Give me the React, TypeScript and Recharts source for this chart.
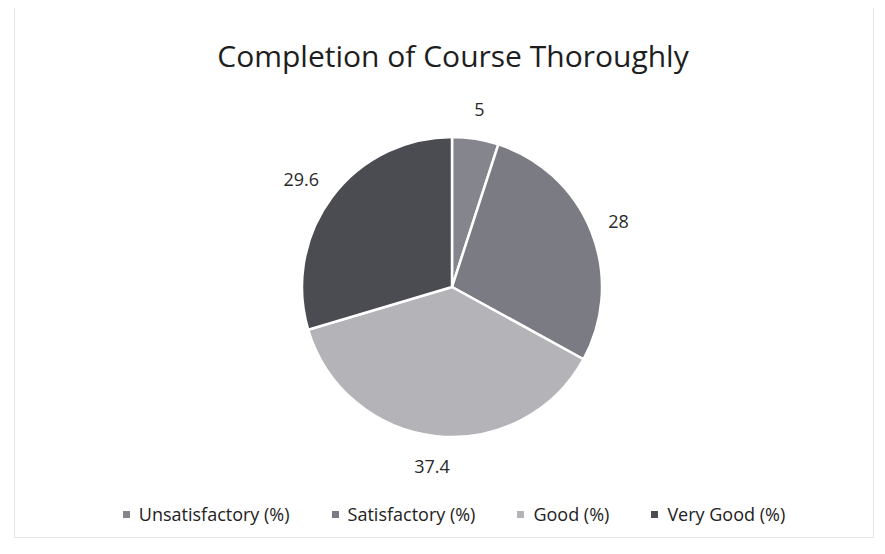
import React from "react";
import { PieChart, Pie, Cell, Legend } from "recharts";

const categories = ["Unsatisfactory (%)", "Satisfactory (%)", "Good (%)", "Very Good (%)"];
const values = [5, 28, 37.4, 29.6];
const colors = ["#85858d", "#7b7b83", "#b3b3b8", "#4b4b52"];

const data = categories.map((name, i) => ({ name, value: values[i] }));

const RADIAN = Math.PI / 180;
const FONT = "'Open Sans', sans-serif";

// outside-end labels: the box corner nearest the pie sits on a ring just outside it
const renderLabel = ({ cx, cy, midAngle, outerRadius, value }: any) => {
    const r = outerRadius + 20;
    const cos = Math.cos(-midAngle * RADIAN);
    const sin = Math.sin(-midAngle * RADIAN);
    const w = String(value).length * 9;
    const x = cx + r * cos + cos * w / 2;
    const y = cy + r * sin + sin * 10;
    return (
        <text x={x} y={y} fill="#2a2a2a" fontSize={18} textAnchor="middle" dominantBaseline="central"
            fontFamily={FONT}>
            {value}
        </text>
    );
};

const renderLegend = () => (
    <div style={{ display: "flex", justifyContent: "center", fontFamily: FONT, fontSize: 18, color: "#222" }}>
        {categories.map((c, i) => (
            <div key={c} style={{ display: "flex", alignItems: "center", marginRight: i < categories.length - 1 ? 42 : 0 }}>
                <span style={{ display: "inline-block", width: 7, height: 7, background: colors[i], marginRight: 9 }} />
                <span>{c}</span>
            </div>
        ))}
    </div>
);

export default function App() {
    return (
        <div style={{ position: "relative", width: 885, height: 554, margin: -8, background: "#fff" }}>
            <div style={{ position: "absolute", left: 14, top: 6, width: 858, height: 530, border: "1px solid #e6e6e6" }} />
            <div style={{
                position: "absolute", left: 0, top: 35, width: 906, textAlign: "center",
                fontFamily: FONT, fontSize: 30, color: "#1e1e1e"
            }}>
                Completion of Course Thoroughly
            </div>
            <PieChart width={885} height={554} margin={{ top: 0, right: 0, bottom: 0, left: 0 }}
                style={{ position: "absolute", left: 0, top: 0 }}>
                <Pie
                    data={data}
                    dataKey="value"
                    nameKey="name"
                    cx={452}
                    cy={287}
                    outerRadius={150}
                    startAngle={90}
                    endAngle={-270}
                    stroke="#ffffff"
                    strokeWidth={2.5}
                    label={renderLabel}
                    labelLine={false}
                    isAnimationActive={false}
                >
                    {data.map((d, i) => (
                        <Cell key={d.name} fill={colors[i]} />
                    ))}
                </Pie>
                <Legend
                    verticalAlign="bottom"
                    content={renderLegend}
                    wrapperStyle={{ bottom: 28, left: 0, width: 908 }}
                />
            </PieChart>
        </div>
    );
}
